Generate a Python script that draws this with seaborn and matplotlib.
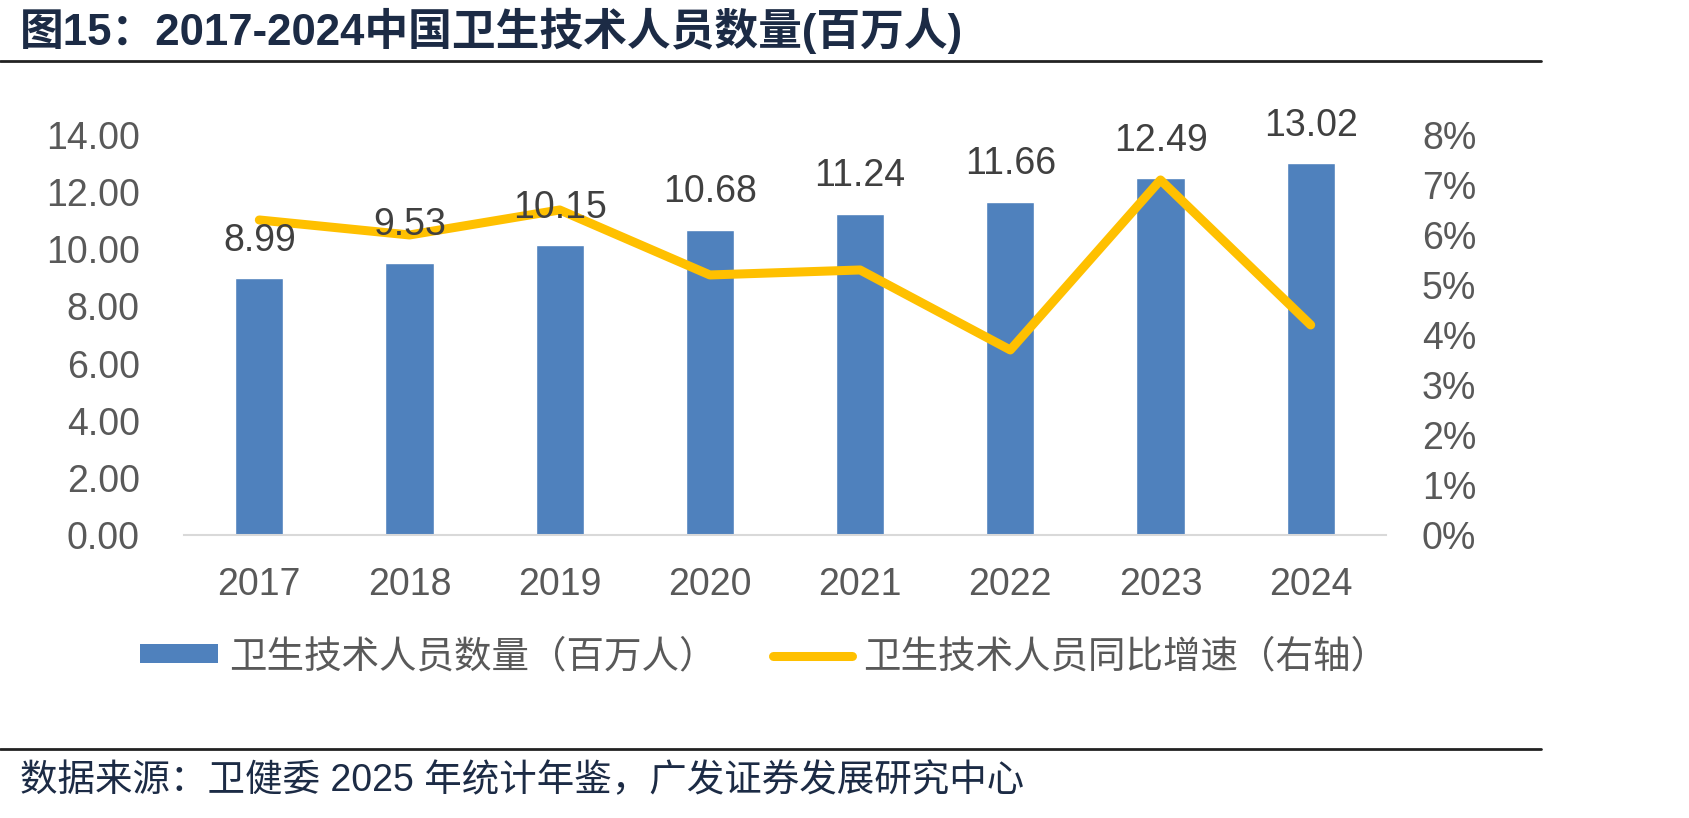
import numpy as np
import matplotlib
matplotlib.use('Agg')
import matplotlib.pyplot as plt
from matplotlib.lines import Line2D
from matplotlib.patches import Patch
from matplotlib.ticker import PercentFormatter
import seaborn as sns

years = ['2017', '2018', '2019', '2020', '2021', '2022', '2023', '2024']
staff = [8.99, 9.53, 10.15, 10.68, 11.24, 11.66, 12.49, 13.02]  # 百万人
growth = [0.063, 0.060, 0.065, 0.052, 0.053, 0.037, 0.071, 0.042]  # 同比增速

bar_color = '#4F81BD'
line_color = '#FFC000'
navy = '#1C2B45'
grey = '#595959'

sns.set_theme(style='white')
plt.rcParams['font.family'] = ['Liberation Sans', 'Noto Sans CJK SC']

fig = plt.figure(figsize=(16.9, 8.18), dpi=100)
ax = fig.add_axes([0.109, 0.346, 0.711, 0.489])

sns.barplot(x=years, y=staff, color=bar_color, width=0.32, saturation=1, ax=ax)
ax.set_ylim(0, 14)
ax.set_yticks(np.arange(0, 15, 2))
ax.set_yticklabels([f'{v:.2f}' for v in np.arange(0, 15, 2)])
ax.set_xlim(-0.5, 7.5)
ax.set_xlabel('')
ax.set_ylabel('')
ax.tick_params(axis='both', length=0, labelsize=27, labelcolor=grey)
ax.tick_params(axis='x', pad=23)
ax.tick_params(axis='y', pad=32)
for s in ['left', 'right', 'top']:
    ax.spines[s].set_visible(False)
ax.spines['bottom'].set_color('#D9D9D9')
ax.spines['bottom'].set_linewidth(1.5)

ax2 = ax.twinx()
sns.lineplot(x=list(range(len(years))), y=growth, color=line_color, linewidth=6.5,
             solid_capstyle='round', ax=ax2)
ax2.set_ylim(0, 0.08)
ax2.set_yticks(np.arange(0, 0.081, 0.01))
ax2.yaxis.set_major_formatter(PercentFormatter(1.0, decimals=0))
ax2.tick_params(axis='y', length=0, labelsize=27, labelcolor=grey, pad=26)
ax2.set_ylabel('')
ax2.grid(False)
for s in ax2.spines.values():
    s.set_visible(False)

# bar value labels, drawn above the growth line
for i, v in enumerate(staff):
    ax2.annotate(f'{v:.2f}', (i, v), xycoords=ax.transData, xytext=(0, 14),
                 textcoords='offset points', ha='center', va='bottom',
                 fontsize=27, color='#404040', zorder=10)

# legend
handles = [Patch(facecolor=bar_color, edgecolor='none'),
           Line2D([0], [0], color=line_color, linewidth=6.5, solid_capstyle='round')]
labels = ['卫生技术人员数量（百万人）', '卫生技术人员同比增速（右轴）']
leg = fig.legend(handles, labels, loc='center', bbox_to_anchor=(0.452, 0.197), ncol=2,
                 frameon=False, handlelength=2.1, handleheight=0.4,
                 columnspacing=1.5, handletextpad=0.3,
                 prop={'family': ['Noto Sans CJK SC'], 'size': 27})
for t in leg.get_texts():
    t.set_color(grey)

# title and source
fig.text(0.012, 0.962, '图15：2017-2024中国卫生技术人员数量(百万人)', fontsize=31.5,
         fontweight='bold', color=navy, va='center', ha='left')
fig.add_artist(Line2D([0, 0.912], [0.925, 0.925], transform=fig.transFigure,
                      color='#222222', linewidth=2))
fig.add_artist(Line2D([0, 0.912], [0.084, 0.084], transform=fig.transFigure,
                      color='#222222', linewidth=2))
fig.text(0.012, 0.045, '数据来源：卫健委 2025 年统计年鉴，广发证券发展研究中心', fontsize=27,
         color=navy, va='center', ha='left')

fig.savefig('out.png', dpi=100, facecolor='white')
